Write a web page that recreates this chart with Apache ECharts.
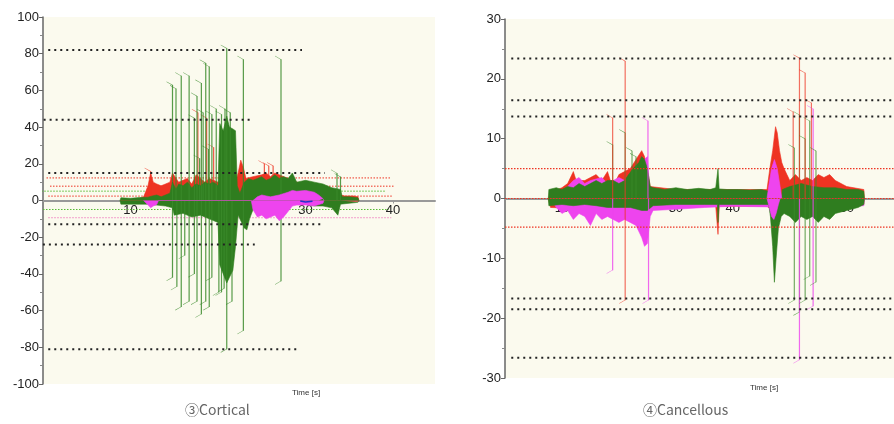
<!DOCTYPE html>
<html><head><meta charset="utf-8">
<script src="https://cdn.jsdelivr.net/npm/echarts@6/dist/echarts.min.js"></script>
<style>html,body{margin:0;padding:0;background:#fff}#c{width:894px;height:424px}</style>
</head><body><div id="c"></div>
<script>
// ---------- Cortical (left) : [time s, value] ----------
const cortGreenUpper = [[8.8,0],[8.9,1.5],[10,1.2],[11,1.6],[12,1.8],[12.5,2.5],[13,3],[13.5,2],[14,3],[14.5,4],[14.8,10],[15.2,6],[15.5,9],[16,8],[16.5,10],[17,7],[17.5,9],[18,8],[18.5,10],[19,9],[19.5,10],[20,8],[20.2,42],[20.6,38],[21,46],[21.3,40],[21.7,39],[22,38],[22.2,8],[22.5,4],[23,10],[23.5,12],[24,11],[24.5,12],[25,13],[25.5,11],[26,12],[26.5,14],[27,12],[27.5,13],[28,12],[28.5,15],[29,10],[30,11],[31,10],[32,9],[33,7],[34,6],[34.2,2],[35,2],[36,1.5],[36.1,0]];
const cortGreenLower = [[8.8,0],[8.9,-2],[10,-2],[11,-2],[12,-2],[13,-2.5],[14,-3],[14.8,-4],[15,-8],[16,-7],[17,-9],[18,-8],[19,-10],[20,-12],[20.2,-35],[20.6,-40],[21,-45],[21.3,-42],[21.7,-38],[22,-25],[22.3,-8],[23,-15],[23.3,-16],[23.6,-10],[24,-5],[25,-4],[26,-3],[27,-3],[28,-2],[29,-2],[30,-2],[31,-3],[32,-3],[33,-4],[33.7,-8],[34,-2],[36,-1],[36.1,0]];
const cortRedUpper = [[8.8,0],[9,0.5],[11,1],[11.5,2],[12,8],[12.3,15],[12.6,10],[13,9],[13.5,8],[14,9],[14.5,10],[14.8,15],[15,14],[15.5,10],[16,11],[16.5,12],[17,9],[17.5,14],[18,12],[18.5,10],[19,12],[19.5,11],[20,10],[22,10],[22.3,15],[22.6,22],[22.9,18],[23.2,12],[24,13],[25,14],[25.5,15],[26,13],[26.5,15],[27,14],[28,12],[29,10],[30,9],[31,8],[32,6],[33,5],[34,3],[34.5,2.5],[35.5,2.5],[36,2],[36.1,0]];
const cortRedLower = [[8.8,0],[9,-0.8],[12,-1],[20,-1],[30,-0.8],[36,-0.5],[36.1,0]];
const cortMagentaUpper = [[24,0],[24.5,2],[25,3],[25.5,2.5],[26,2],[27,3],[28,4.5],[28.5,5.5],[29,5],[30,5.5],[31,4.5],[31.5,3],[32,1],[32.1,0]];
const cortMagentaLower = [[11.5,0],[12,-2.5],[12.3,-4],[12.6,-3],[13,-2.2],[13.2,0],[23.8,0],[24,-5],[24.5,-9],[25,-8],[25.5,-10],[26,-9],[26.5,-8],[27,-11],[27.5,-9],[28,-6],[28.5,-3],[29,-2.5],[30,-2.5],[31,-3],[32,-1.5],[32.1,0]];
const cortBlue = [[29.4,-0.3],[30,-0.8],[30.8,-0.4]];
const cortGreenSpikes = [[14.8,63],[15.2,61],[15.8,68],[16.7,68],[17.6,57],[18.1,64],[18.6,75],[19.0,73],[19.8,50],[20.4,47],[21.0,83],[22.9,77],[27.2,77],[33.6,15],[34.0,13],
  [17.3,45],[18.3,48],[19.3,47],[20.8,50],[21.4,48],[17.9,23],[18.9,28],
  [14.8,-42],[15.3,-47],[15.8,-58],[16.7,-55],[17.6,-55],[18.1,-62],[18.6,-55],[19.0,-58],[20.1,-50],[20.4,-50],[21.0,-81],[21.6,-55],[22.9,-71],[27.2,-44],
  [16.2,-30],[17.3,-40],[19.3,-42],[20.7,-48]];
const cortRedSpikes = [[12.3,16],[17.7,48],[18.7,45],[19.5,29],[25.3,20],[25.8,19],[26.3,19]];
// threshold lines: [value, t start, t end]
const cortBlackLines = [[82,0.6,29.6],[44,-1.3,23.7],[15,0.6,32.2],[-13,0.6,31.7],[-24,-0.7,24.2],[-81,0.6,29.4]];
const cortRedLines = [[12.3,0.4,39.8],[7.8,0.8,40.2],[2.4,0.6,40.0]];
const cortGreenLines = [[5.1,-0.2,39.2],[-4.9,0,39.5]];
const cortPinkLines = [[-9.4,0.6,39.8]];

// ---------- Cancellous (right) ----------
const cancGreenUpper = [[7.6,0],[7.7,1.5],[9,1.8],[10,1.5],[11,2],[12,1.8],[13,2.5],[14,2],[15,2.5],[16,3],[17,2.5],[18,3],[19,3],[20,2.5],[21,3],[21.7,4],[22.5,5],[23,5.5],[23.5,6],[24,7],[24.5,6.5],[25,5],[25.5,2],[26,1.8],[28,1.5],[30,1.8],[32,1.5],[34,1.7],[36,1.5],[37,1.8],[37.4,5],[37.6,1.6],[39,1.5],[41,1.5],[43,1.4],[45,1.5],[46.3,1.2],[46.5,0],[48.5,0],[48.7,1.5],[50,2],[52,2.5],[54,2],[56,1.8],[58,1.8],[60,1.5],[62,1.5],[63,1.2],[63.1,0]];
const cancGreenLower = [[7.6,0],[7.7,-1.2],[10,-1],[12,-1.2],[14,-1],[16,-1.2],[18,-1.5],[20,-1.5],[22,-1.5],[24,-2],[25,-2],[26,-1.2],[30,-1],[35,-1],[37.3,-1],[37.4,-4],[37.6,-1],[40,-1],[45,-1],[46.3,-1],[46.6,-3],[47,-8],[47.3,-14],[47.6,-10],[48,-5],[48.5,-3],[49,-2.5],[50,-3],[51,-4],[52,-3],[53,-3.5],[54,-3],[55,-4],[56,-3],[57,-3.5],[58,-2.5],[60,-2],[62,-1.5],[63,-1],[63.1,0]];
const cancRedUpper = [[7.6,0],[8,1],[10,1.8],[11,2.5],[12,4.5],[12.5,3],[14,3],[15,3.5],[16,4],[17,3],[18,4.5],[18.5,3],[19.5,3],[20,4],[21,4.5],[22,5],[23,6.5],[24,8],[24.5,7],[25,5],[25.5,2],[30,1.5],[46,1.5],[46.5,5],[47,8],[47.5,12],[47.8,11],[48.2,8],[48.6,6],[49,5],[49.5,4],[50,3],[51,4],[52,3],[53,3.5],[54,3],[55,4],[56,3.5],[57,4],[58,3],[59,2.5],[60,2],[63,1.5],[63.1,0]];
const cancRedLower = [[7.6,0],[8,-1.5],[15,-1.8],[20,-2],[25,-1.5],[30,-1.5],[37,-1.3],[37.4,-6],[37.6,-1.3],[46,-1.3],[47,-2],[48,-1.5],[55,-2],[63,-1],[63.1,0]];
const cancMagentaUpper = [[10,0],[11,2],[12,3],[13,3.5],[14,2.5],[15,3],[17,3.5],[18,2.5],[20,3.5],[21,3],[22,3.5],[23,5],[24,6],[25,7],[25.5,0]];
const cancMagentaLower = [[8,0],[9,-1.5],[10,-2.5],[11,-2],[12,-3.5],[13,-2.5],[14,-3],[15,-4.5],[16,-2.5],[17,-3.5],[18,-3],[19,-3.5],[20,-4],[21,-3.5],[22,-4],[23,-4.5],[24,-6.5],[24.5,-8],[25,-7.5],[25.5,-3],[26,-2],[30,-1.8],[35,-1.5],[40,-1.3],[46,-1.4],[49,-1.5],[55,-1.5],[63,-1.2],[63.1,0]];
const cancMagentaPeak = [[46,0],[46.3,2],[46.8,5],[47.3,6.5],[47.8,5],[48.3,2],[48.6,0]];
const cancMagentaDip = [[46,0],[46.4,-1.5],[46.8,-3],[47.2,-3.5],[47.6,-2.5],[48,-1],[48.3,0]];
const cancGreenSpikes = [[18.9,9],[21.1,11],[22.3,8],[23,7],[50.8,8.5],[51.7,14],[52.7,10],[53.5,13],[54.6,8],[50.8,-17],[51.7,-19],[52.7,-17],[53.5,-13],[54.6,-14]];
const cancRedSpikes = [[18.9,13.5],[21.1,23],[50.6,14.5],[51.7,23.5],[52.7,21],[53.8,16],[21.1,-17]];
const cancMagentaSpikes = [[25.1,13],[54.1,15],[18.9,-12],[25.2,-17],[51.7,-27],[54.1,-18]];
const cancBlackLines = [[23.4,1.1,68.3],[16.4,1.1,68.3],[13.7,1.1,68.3],[-16.7,1.1,68.3],[-18.5,1.1,68.3],[-26.6,1.1,68.3]];
const cancRedLines = [[5,0,68.3],[0,0,68.3],[-4.8,0,68.3]];
const cancGreenLines = [[5,-1.6,0],[-4.8,-1.6,0]];

const cortYTicks = {min:-100,max:100,interval:20};
const cancYTicks = {min:-30,max:30,interval:10};
const cortXTicks = {min:0,max:44.8,interval:10};
const cancXTicks = {min:0,max:68.3,interval:10};

const GREEN='#2f7d1f', RED='#ee3322', MAG='#ee44ee';
const grids = [{left:43,top:17,width:392,height:367},{left:505,top:19,width:389,height:359}];

function area(data, color, idx, z){
  return {type:'line', xAxisIndex:idx, yAxisIndex:idx, data:data, showSymbol:false, z:z,
    lineStyle:{color:color,width:0.6}, areaStyle:{color:color,opacity:1}, silent:true};
}
function hline(arr, color, width, dash, idx, z){
  return arr.map(r => ({type:'line', xAxisIndex:idx, yAxisIndex:idx, clip:false, showSymbol:false, silent:true, z:z,
    data:[[r[1],r[0]],[r[2],r[0]]], lineStyle:{color:color,width:width,type:dash}}));
}
function spikes(data, color, idx, z, op){
  return [{type:'bar', xAxisIndex:idx, yAxisIndex:idx, data:data, barWidth:1.2, barGap:'-100%', z:z, silent:true,
    itemStyle:{color:color, opacity:op}},
   {type:'scatter', xAxisIndex:idx, yAxisIndex:idx, z:z, silent:true,
    data:data.filter(d=>d[1]>0), symbol:'path://M0,0L10,6L10,7L0,1Z', symbolSize:[6,4], symbolOffset:[-3,-1.5],
    itemStyle:{color:color, opacity:0.8}},
   {type:'scatter', xAxisIndex:idx, yAxisIndex:idx, z:z, silent:true,
    data:data.filter(d=>d[1]<0), symbol:'path://M0,7L10,1L10,0L0,6Z', symbolSize:[6,4], symbolOffset:[-3,1.5],
    itemStyle:{color:color, opacity:0.8}}];
}

const yAxisBase = {type:'value', splitLine:{show:false},
  axisLine:{show:true,lineStyle:{color:'#666',width:1.5}},
  axisTick:{show:true,length:4,lineStyle:{color:'#666'}},
  minorTick:{show:true,splitNumber:2,length:3,lineStyle:{color:'#888'}},
  axisLabel:{color:'#222',fontSize:13,fontFamily:'Liberation Sans, Arial',margin:4}};
function xAxisFor(i, ticks, yt){
  const off = -grids[i].height * (0 - yt.min) / (yt.max - yt.min);
  return Object.assign({type:'value', gridIndex:i, position:'bottom', offset:off, splitLine:{show:false},
    axisLine:{show:true,onZero:false,lineStyle:{color:'#999',width:2}},
    axisTick:{show:true,length:3,lineStyle:{color:'#999'}},
    axisLabel:{color:'#222',fontSize:13,fontFamily:'Liberation Sans, Arial',margin:3,showMinLabel:false,showMaxLabel:false}}, ticks);
}

const series = [].concat(
  hline(cortRedLines, RED, 1, [1.5,1.5], 0, 1),
  hline(cortGreenLines, '#55bb33', 1, [1.5,1.5], 0, 1),
  hline(cortPinkLines, '#f080c0', 1, [1.5,1.5], 0, 1),
  [area(cortRedUpper, RED, 0, 2), area(cortRedLower, RED, 0, 2),
   area(cortGreenUpper, GREEN, 0, 3), area(cortGreenLower, GREEN, 0, 3),
   area(cortMagentaUpper, MAG, 0, 4), area(cortMagentaLower, MAG, 0, 4),
   {type:'line',xAxisIndex:0,yAxisIndex:0,data:cortBlue,showSymbol:false,z:5,lineStyle:{color:'#2233cc',width:1.5}}],
  spikes(cortGreenSpikes, '#3a8a2a', 0, 3, 0.85),
  spikes(cortRedSpikes, RED, 0, 2, 0.8),
  hline(cortBlackLines, '#222', 2, [2,4], 0, 6),

  hline(cancRedLines, RED, 1.2, [1.5,1.5], 1, 6),
  hline(cancGreenLines, '#55bb33', 1.2, [1.5,1.5], 1, 6),
  [area(cancRedUpper, RED, 1, 2), area(cancRedLower, RED, 1, 2),
   area(cancMagentaUpper, MAG, 1, 2.5), area(cancMagentaLower, MAG, 1, 2.5),
   area(cancGreenUpper, GREEN, 1, 3), area(cancGreenLower, GREEN, 1, 3),
   area(cancMagentaPeak, MAG, 1, 4), area(cancMagentaDip, MAG, 1, 4)],
  spikes(cancGreenSpikes, '#3a8a2a', 1, 5, 0.7),
  spikes(cancRedSpikes, RED, 1, 5, 0.7),
  spikes(cancMagentaSpikes, MAG, 1, 5, 0.8),
  hline(cancBlackLines, '#222', 2, [2,4], 1, 6)
);

const chart = echarts.init(document.getElementById('c'), null, {renderer:'canvas'});
chart.setOption({
  animation:false,
  backgroundColor:'#ffffff',
  grid:grids.map(g => Object.assign({show:true,backgroundColor:'#fbfaee',borderWidth:0}, g)),
  xAxis:[xAxisFor(0, cortXTicks, cortYTicks), xAxisFor(1, cancXTicks, cancYTicks)],
  yAxis:[Object.assign({}, yAxisBase, {gridIndex:0}, cortYTicks),
         Object.assign({}, yAxisBase, {gridIndex:1}, cancYTicks)],
  graphic:[
    {type:'text',left:292,top:389,style:{text:'Time [s]',fontSize:8,fill:'#333',fontFamily:'Liberation Sans, Arial'}},
    {type:'text',left:750,top:384,style:{text:'Time [s]',fontSize:8,fill:'#333',fontFamily:'Liberation Sans, Arial'}},
    {type:'text',left:185,top:403,style:{text:'③Cortical',fontSize:14,fill:'#666',fontFamily:'Noto Sans CJK JP'}},
    {type:'text',left:643,top:403,style:{text:'④Cancellous',fontSize:14,fill:'#666',fontFamily:'Noto Sans CJK JP'}}
  ],
  series: series
});
</script></body></html>
